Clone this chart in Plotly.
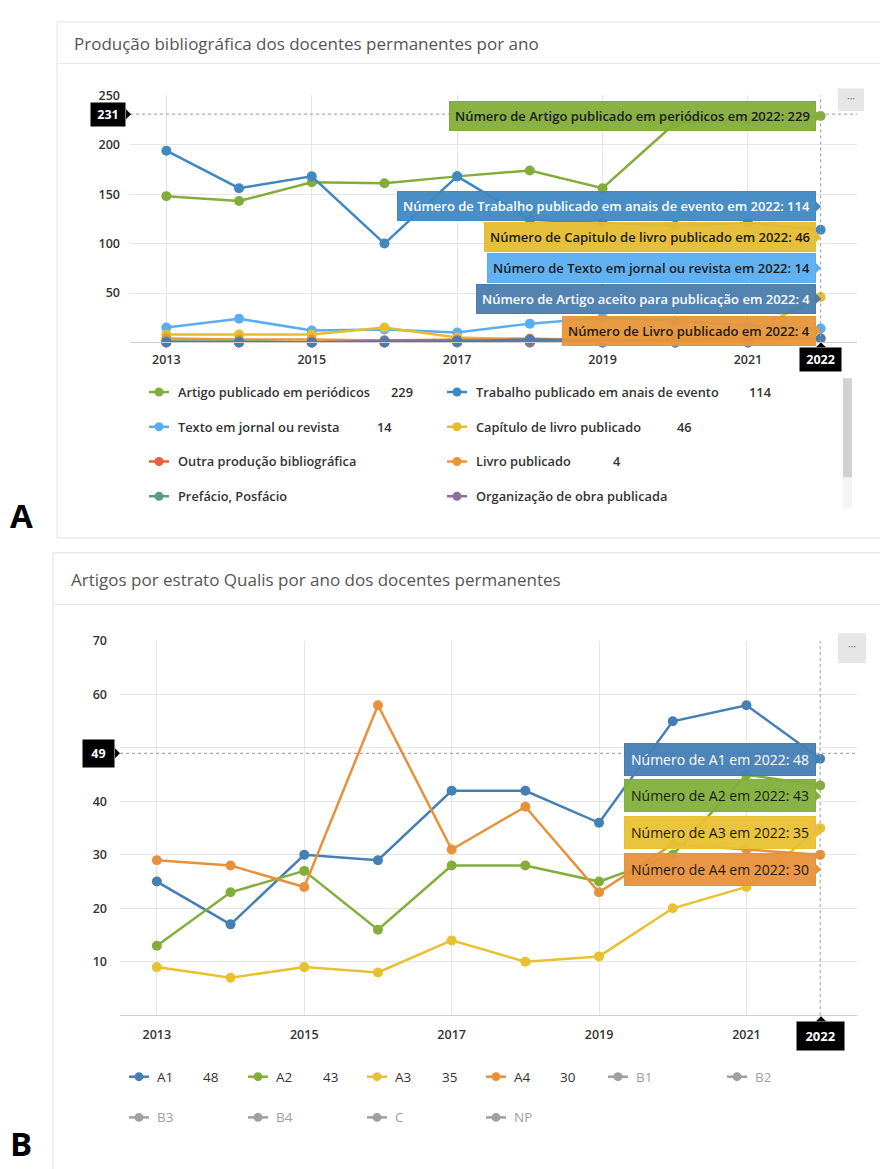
import plotly.graph_objects as go

W, H = 880, 1169
FONT = "Open Sans"


def X(p):
    return p / W


def Y(p):
    return 1 - p / H


# ---------------- DATA ----------------
years = [2013, 2014, 2015, 2016, 2017, 2018, 2019, 2020, 2021, 2022]
x_tick_years = [2013, 2015, 2017, 2019, 2021]

# Panel A - Produção bibliográfica
artigo_periodicos = [148, 143, 162, 161, 168, 174, 156, 222, 226, 229]
trabalho_eventos = [194, 156, 168, 100, 168, 124, 121, 118, 121, 114]
texto_jornal = [15, 24, 12, 13, 10, 19, 25, 22, 17, 14]
capitulo_livro = [8, 8, 8, 15, 5, 3, 4, 8, 10, 46]
outra_producao = [1, 0, 0, 0, 0, 0, 0, 0, 0, None]
livro_publicado = [4, 3, 3, 2, 3, 4, 2, 3, 2, 4]
prefacio = [1, 1, 0, 0, 0, 0, 0, 0, 0, None]
organizacao = [0, 0, 0, 2, 2, 1, 0, 0, 0, None]
artigo_aceito = [0, 0, 0, 0, 1, 3, 2, 3, 5, 4]

a_names = ["Artigo publicado em periódicos", "Trabalho publicado em anais de evento",
           "Texto em jornal ou revista", "Capítulo de livro publicado",
           "Outra produção bibliográfica", "Livro publicado",
           "Prefácio, Posfácio", "Organização de obra publicada",
           "Artigo aceito para publicação"]
a_values = [artigo_periodicos, trabalho_eventos, texto_jornal, capitulo_livro,
            outra_producao, livro_publicado, prefacio, organizacao, artigo_aceito]
a_colors = ["#83ad3a", "#3f88c2", "#5aaef0", "#e6bd30",
            "#e8603c", "#e8963a", "#5b9a84", "#8e6ea0", "#4a7cad"]
a_ticks_y = [50, 100, 150, 200, 250]
a_tick_text = ["50", "100", "150", "200", "250"]

# Panel B - Artigos por estrato Qualis
a1 = [25, 17, 30, 29, 42, 42, 36, 55, 58, 48]
a2 = [13, 23, 27, 16, 28, 28, 25, 30, 45, 43]
a3 = [9, 7, 9, 8, 14, 10, 11, 20, 24, 35]
a4 = [29, 28, 24, 58, 31, 39, 23, 32, 31, 30]
b_names = ["A1", "A2", "A3", "A4"]
b_values = [a1, a2, a3, a4]
b_colors = ["#4580b5", "#82af3b", "#e8c131", "#e8913a"]
b_hidden = ["B1", "B2", "B3", "B4", "C", "NP"]
b_ticks_y = [10, 20, 30, 40, 50, 60, 70]
b_tick_text = ["10", "20", "30", "40", "", "60", "70"]  # 50 is covered by the crosshair label

crosshair_a = 231
crosshair_b = 49
cross_year = 2022

# ---------------- FIGURE ----------------
fig = go.Figure()

for name, vals, col in zip(a_names, a_values, a_colors):
    fig.add_trace(go.Scatter(x=years, y=vals, name=name, mode="lines+markers",
                             line=dict(color=col, width=2.5), marker=dict(size=10, color=col),
                             xaxis="x", yaxis="y", showlegend=False, hoverinfo="skip",
                             cliponaxis=False))

for name, vals, col in zip(b_names, b_values, b_colors):
    fig.add_trace(go.Scatter(x=years, y=vals, name=name, mode="lines+markers",
                             line=dict(color=col, width=2.5), marker=dict(size=10, color=col),
                             xaxis="x2", yaxis="y2", showlegend=False, hoverinfo="skip",
                             cliponaxis=False))

tickfont = dict(family=FONT, size=12.5, color="#333333", weight=600)
grid = "#e6e6e6"

fig.update_layout(
    width=W, height=H, margin=dict(l=0, r=0, t=0, b=0),
    paper_bgcolor="white", plot_bgcolor="white", showlegend=False,
    xaxis=dict(domain=[X(130), X(857)], range=[2012.5, 2022.5], tickvals=x_tick_years,
               showgrid=True, gridcolor=grid, zeroline=False, showline=True,
               linecolor="#cccccc", ticks="", tickfont=tickfont, anchor="y",
               ticklabelstandoff=6, fixedrange=True),
    yaxis=dict(domain=[Y(336), Y(87)], range=[0, 250], tickvals=a_ticks_y, ticktext=a_tick_text,
               showgrid=True, gridcolor=grid, zeroline=False, showline=False, ticks="",
               tickfont=tickfont, anchor="x", ticklabelstandoff=9, fixedrange=True),
    xaxis2=dict(domain=[X(120), X(857)], range=[2012.5, 2022.5], tickvals=x_tick_years,
                showgrid=True, gridcolor=grid, zeroline=False, showline=True,
                linecolor="#cccccc", ticks="", tickfont=tickfont, anchor="y2",
                ticklabelstandoff=8, fixedrange=True),
    yaxis2=dict(domain=[Y(1014), Y(637)], range=[0, 70], tickvals=b_ticks_y, ticktext=b_tick_text,
                showgrid=True, gridcolor=grid, zeroline=False, showline=False, ticks="",
                tickfont=tickfont, anchor="x2", ticklabelstandoff=12, fixedrange=True),
)

shapes = []
ann = []


def rect(x0, y0, x1, y1, fill=None, line=None, lw=1, layer="below"):
    shapes.append(dict(type="rect", xref="paper", yref="paper", x0=X(x0), x1=X(x1),
                       y0=Y(y1), y1=Y(y0), fillcolor=fill or "rgba(0,0,0,0)",
                       line=dict(color=line or "rgba(0,0,0,0)", width=lw if line else 0),
                       layer=layer))


def hline(x0, x1, y, color, dash="solid", lw=1):
    shapes.append(dict(type="line", xref="paper", yref="paper", x0=X(x0), x1=X(x1),
                       y0=Y(y), y1=Y(y), line=dict(color=color, width=lw, dash=dash)))


def tri(points, color):
    path = "M " + " L ".join(f"{X(px)},{Y(py)}" for px, py in points) + " Z"
    shapes.append(dict(type="path", xref="paper", yref="paper", path=path,
                       fillcolor=color, line=dict(color=color, width=0), layer="above"))


def text(x, y, t, size=12, color="#333", weight=400, xanchor="left", yanchor="middle", **kw):
    ann.append(dict(xref="paper", yref="paper", x=X(x), y=Y(y), text=t, showarrow=False,
                    xanchor=xanchor, yanchor=yanchor,
                    font=dict(family=FONT, size=size, color=color, weight=weight), **kw))


# Cards
rect(57, 13, 900, 533, line="#e2e2e2")
hline(57, 880, 55, "#e8e8e8")
rect(53, 548, 900, 1200, line="#e2e2e2")
hline(53, 880, 600, "#e8e8e8")

text(72, 35, "Produção bibliográfica dos docentes permanentes por ano", size=17, color="#555555")
text(69, 575, "Artigos por estrato Qualis por ano dos docentes permanentes", size=17, color="#555555")
text(21, 510, "<b>A</b>", size=33, color="#000000", xanchor="center")
text(21, 1168, "<b>B</b>", size=33, color="#000000", xanchor="center", yanchor="bottom")

# Export buttons
rect(838, 80, 864, 103, fill="#e6e6e6", layer="above")
text(851, 90, "···", size=10, color="#666666", xanchor="center")
rect(838, 629, 866, 659, fill="#e6e6e6", layer="above")
text(852, 642, "···", size=10, color="#666666", xanchor="center")

# Crosshairs
for xa, ya, top, val in [("x", "y", 250, crosshair_a), ("x2", "y2", 70, crosshair_b)]:
    shapes.append(dict(type="line", xref=xa, yref=ya, x0=cross_year, x1=cross_year,
                       y0=0, y1=top, line=dict(color="#999999", width=1, dash="dot")))
    shapes.append(dict(type="line", xref=xa, yref=ya, x0=2012.5, x1=2022.5,
                       y0=val, y1=val, line=dict(color="#999999", width=1, dash="dot")))

# Crosshair labels
NB = "&nbsp;"
ann.append(dict(xref="paper", yref="y", x=X(126), y=crosshair_a,
                text=f"{NB}<b>{crosshair_a}</b>{NB}",
                showarrow=False, xanchor="right", yanchor="middle", bgcolor="#000000",
                borderpad=3, font=dict(family=FONT, size=12.5, color="white")))
tri([(126, 101), (131, 106), (126, 111)], "#000000")
ann.append(dict(xref="x", yref="paper", x=cross_year, y=Y(341),
                text=f"{NB}<b>{cross_year}</b>{NB}",
                showarrow=False, xanchor="center", yanchor="top", bgcolor="#000000",
                borderpad=3, font=dict(family=FONT, size=12.5, color="white")))
tri([(816, 341), (821, 336), (826, 341)], "#000000")
ann.append(dict(xref="paper", yref="y2", x=X(115), y=crosshair_b,
                text=f"{NB}<b>{crosshair_b}</b>{NB}",
                showarrow=False, xanchor="right", yanchor="middle", bgcolor="#000000",
                borderpad=5, font=dict(family=FONT, size=12.5, color="white")))
tri([(115, 745), (120, 750), (115, 755)], "#000000")
ann.append(dict(xref="x2", yref="paper", x=cross_year, y=Y(1020),
                text=f"{NB}<b>{cross_year}</b>{NB}",
                showarrow=False, xanchor="center", yanchor="top", bgcolor="#000000",
                borderpad=5, font=dict(family=FONT, size=13, color="white")))
tri([(816, 1020), (821, 1015), (826, 1020)], "#000000")

# Tooltips panel A
tip_a = [  # (series index, label, y-center px, bg, text color)
    (0, "Artigo publicado em periódicos", 108, "rgba(131,173,58,0.95)", "#1b1b1b"),
    (1, "Trabalho publicado em anais de evento", 199, "rgba(63,136,194,0.95)", "#ffffff"),
    (3, "Capitulo de livro publicado", 230, "rgba(230,189,48,0.95)", "#1b1b1b"),
    (2, "Texto em jornal ou revista", 261, "rgba(90,174,240,0.95)", "#1b1b1b"),
    (8, "Artigo aceito para publicação", 292, "rgba(74,124,173,0.95)", "#ffffff"),
    (5, "Livro publicado", 324, "rgba(232,150,58,0.95)", "#1b1b1b"),
]
for idx, label, yc, bg, tc in tip_a:
    last = a_values[idx][-1]
    ann.append(dict(xref="paper", yref="paper", x=X(816), y=Y(yc),
                    text=f"Número de {label} em {years[-1]}: {last}", showarrow=False,
                    xanchor="right", yanchor="middle", bgcolor=bg, bordercolor=a_colors[idx],
                    borderwidth=1, borderpad=5,
                    font=dict(family=FONT, size=13, color=tc, weight=600)))
    tri([(816, yc - 5), (821, yc), (816, yc + 5)], a_colors[idx])

# Tooltips panel B
tip_b = [(0, 756, "rgba(69,128,181,0.95)", "#ffffff"),
         (1, 793, "rgba(130,175,59,0.95)", "#1b1b1b"),
         (2, 830, "rgba(232,193,49,0.95)", "#1b1b1b"),
         (3, 867, "rgba(232,145,58,0.95)", "#1b1b1b")]
for idx, yc, bg, tc in tip_b:
    last = b_values[idx][-1]
    ann.append(dict(xref="paper", yref="paper", x=X(816), y=Y(yc),
                    text=f"Número de {b_names[idx]} em {years[-1]}: {last}", showarrow=False,
                    xanchor="right", yanchor="middle", bgcolor=bg, bordercolor=b_colors[idx],
                    borderwidth=1, borderpad=6,
                    font=dict(family=FONT, size=14, color=tc, weight=500)))
    tri([(816, yc - 5), (821, yc), (816, yc + 5)], b_colors[idx])


def legend_symbol(cx, cy, color):
    hline(cx - 10, cx + 10, cy, color, lw=2.5)
    shapes.append(dict(type="circle", xref="paper", yref="paper",
                       x0=X(cx - 4.5), x1=X(cx + 4.5), y0=Y(cy + 4.5), y1=Y(cy - 4.5),
                       fillcolor=color, line=dict(color=color, width=0)))


# Legend panel A (8 visible entries, 2 columns)
leg_a_rows = [386, 421, 456, 491]
leg_a_cols = [159, 457]
leg_a_valx = [[402, 760], [384, 684], [None, 617], [None, None]]
for i in range(8):
    r, c = divmod(i, 2)
    cx, cy = leg_a_cols[c], leg_a_rows[r]
    legend_symbol(cx, cy, a_colors[i])
    text(cx + 17, cy, a_names[i], size=12.8, color="#333333", weight=600)
    last = a_values[i][-1]
    if last is not None and leg_a_valx[r][c] is not None:
        text(leg_a_valx[r][c], cy, str(last), size=12.8, color="#333333", weight=600, xanchor="center")

# scrollbar
rect(843, 372, 852, 503, fill="#f5f5f5", layer="above")
rect(843, 372, 852, 472, fill="#d2d2d2", layer="above")

# Legend panel B
leg_b_cols = [139, 258, 377, 496, 618, 737]
for i, name in enumerate(b_names):
    cx, cy = leg_b_cols[i], 1076
    legend_symbol(cx, cy, b_colors[i])
    text(cx + 16, cy, name, size=13.5, color="#333333", weight=500)
    text(cx + 72, cy, str(b_values[i][-1]), size=13.5, color="#333333", weight=500, xanchor="center")
for j, name in enumerate(b_hidden):
    pos = 4 + j
    r, c = divmod(pos, 6)
    cx, cy = leg_b_cols[c], [1076, 1117][r]
    legend_symbol(cx, cy, "#a0a0a0")
    text(cx + 16, cy, name, size=13.5, color="#a0a0a0", weight=400)

fig.update_layout(shapes=shapes, annotations=ann)
fig.write_html("out.html", config={"displayModeBar": False})
